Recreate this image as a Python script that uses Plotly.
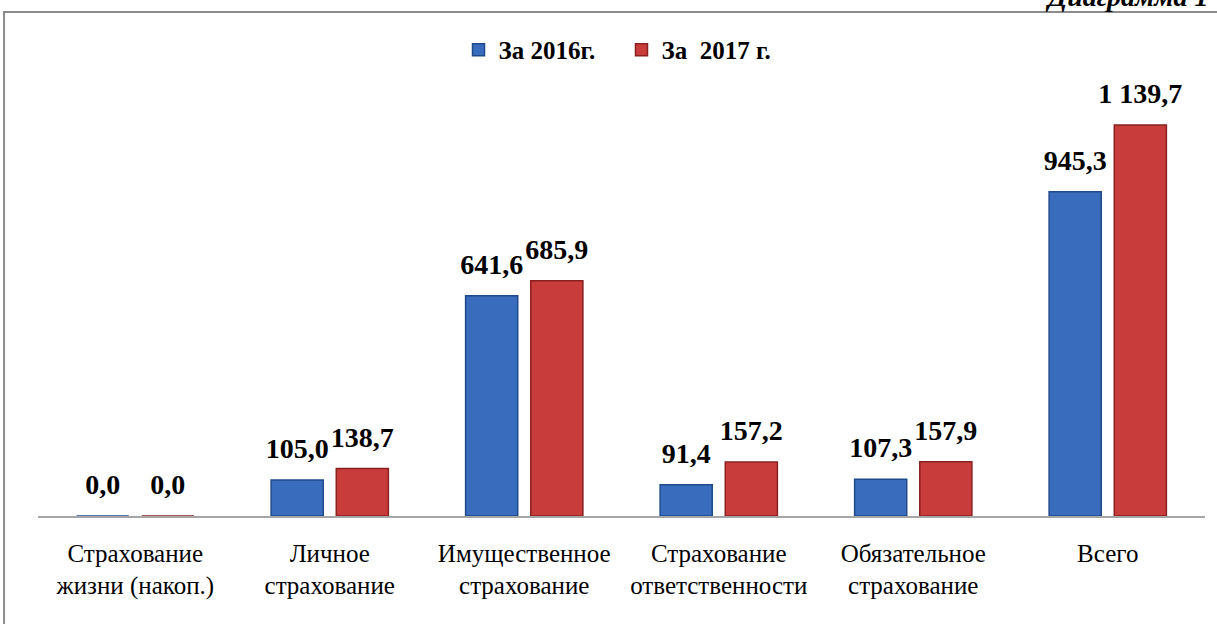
import plotly.graph_objects as go

categories = ["Страхование<br>жизни (накоп.)", "Личное<br>страхование", "Имущественное<br>страхование",
              "Страхование<br>ответственности", "Обязательное<br>страхование", "Всего"]
values_2016 = [0.0, 105.0, 641.6, 91.4, 107.3, 945.3]
values_2017 = [0.0, 138.7, 685.9, 157.2, 157.9, 1139.7]
series_names = ["За 2016г.", "За  2017 г."]

SERIF = "Times New Roman"


def fmt(v):
    return f"{v:,.1f}".replace(",", " ").replace(".", ",")


fig = go.Figure()
series = [(values_2016, "#3a6cbd", "#1f4a8a", "a"), (values_2017, "#c83c3c", "#8a2020", "b")]
for name, (vals, col, edge, grp) in zip(series_names, series):
    fig.add_trace(go.Bar(
        x=categories, y=vals, name=name, offsetgroup=grp,
        marker=dict(color=col, line=dict(color=edge, width=1.5)),
    ))
for name, (vals, col, edge, grp) in zip(series_names, series):
    fig.add_trace(go.Scatter(
        x=categories, y=vals, name=name, offsetgroup=grp, showlegend=False,
        mode="markers+text", text=[fmt(v) for v in vals], textposition="top center",
        marker=dict(size=22, opacity=0, color=col),
        textfont=dict(family=SERIF, size=28, color="black", weight="bold"),
        cliponaxis=False, hoverinfo="skip",
    ))

fig.update_layout(
    width=1217, height=624,
    margin=dict(l=38, r=12, t=60, b=108),
    paper_bgcolor="white", plot_bgcolor="white",
    barmode="group", bargap=0.33, bargroupgap=0.2,
    scattermode="group", scattergap=0.33,
    font=dict(family=SERIF, color="black"),
    legend=dict(orientation="h", x=0.5, xanchor="center", y=1.022, yanchor="middle",
                font=dict(family=SERIF, size=25, color="black", weight="bold"),
                itemwidth=30, entrywidth=118, traceorder="normal"),
    showlegend=True,
)
fig.update_xaxes(showline=True, linecolor="#a6a6a6", linewidth=1.5, ticks="",
                 tickfont=dict(family=SERIF, size=25, color="black"),
                 ticklabelstandoff=14, showgrid=False)
fig.update_yaxes(visible=False, range=[0, 1329], showgrid=False, zeroline=False)

fig.add_shape(type="rect", xref="paper", yref="paper",
              x0=-0.0291, x1=1.03, y0=-0.3, y1=1.105,
              line=dict(color="#8c8c8c", width=2), fillcolor="rgba(0,0,0,0)", layer="below")
fig.add_annotation(text="Диаграмма 1", xref="paper", yref="paper",
                   x=(1043 - 38) / 1167, y=(516 - 14) / 456, xanchor="left", yanchor="bottom", showarrow=False,
                   font=dict(family=SERIF, size=28, color="black", style="italic", weight="bold"))

fig.write_html("out.html", config={"displayModeBar": False},
               post_script="document.body.style.margin='0px';")
